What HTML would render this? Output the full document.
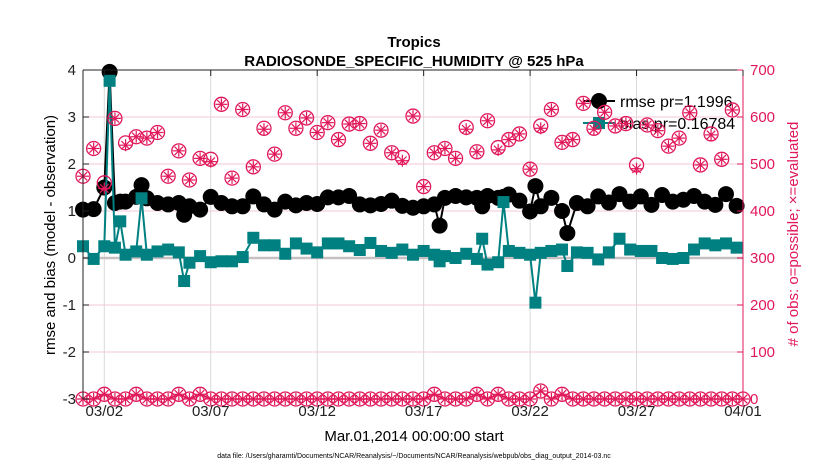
<!DOCTYPE html>
<html><head><meta charset="utf-8"><style>
html,body{margin:0;padding:0;background:#fff;}
svg{display:block;font-family:"Liberation Sans",sans-serif;}
</style></head><body>
<svg id="chart" width="830" height="470" viewBox="0 0 830 470" xmlns="http://www.w3.org/2000/svg">
<rect x="0" y="0" width="830" height="470" fill="#fff"/>
<text x="414" y="47" text-anchor="middle" font-size="15" font-weight="bold">Tropics</text>
<text x="414" y="66" text-anchor="middle" font-size="15" font-weight="bold">RADIOSONDE_SPECIFIC_HUMIDITY @ 525 hPa</text>
<g id="grid"></g>
<g id="legend">
  <line x1="583" y1="101" x2="615" y2="101" stroke="#000" stroke-width="2"/>
  <circle cx="599" cy="101" r="8" fill="#000"/>
  <text x="620" y="107" font-size="16">rmse pr=1.1996</text>
  <line x1="583" y1="123" x2="615" y2="123" stroke="#008080" stroke-width="2"/>
  <rect x="593" y="117" width="12" height="12" fill="#008080"/>
  <text x="620" y="129" font-size="16">bias pr=0.16784</text>
</g>
<g id="series"></g>
<g id="axes"></g>
<text transform="translate(55,235) rotate(-90)" text-anchor="middle" font-size="15">rmse and bias (model - observation)</text>
<text transform="translate(798,234) rotate(-90)" text-anchor="middle" font-size="15" fill="#e0185a"># of obs: o=possible; ×=evaluated</text>
<text x="414" y="441" text-anchor="middle" font-size="15">Mar.01,2014 00:00:00 start</text>
<text x="414" y="458" text-anchor="middle" font-size="7">data file: /Users/gharamti/Documents/NCAR/Reanalysis/~/Documents/NCAR/Reanalysis/webpub/obs_diag_output_2014-03.nc</text>
</svg>
<script>
const xTickLabels = ["03/02","03/07","03/12","03/17","03/22","03/27","04/01"];
const xTickDays = [1,6,11,16,21,26,31];
const yTicks = [-3,-2,-1,0,1,2,3,4];
const y2Ticks = [0,100,200,300,400,500,600,700];
const statDays = [0,0.5,1,1.25,1.5,1.75,2,2.5,2.75,3,3.5,4,4.5,4.75,5,5.5,6,6.5,7,7.5,8,8.5,9,9.5,10,10.5,11,11.5,12,12.5,13,13.5,14,14.5,15,15.5,16,16.5,16.75,17,17.5,18,18.5,18.75,19,19.5,19.75,20,20.5,21,21.25,21.5,22,22.5,22.75,23.2,23.7,24.2,24.7,25.2,25.7,26.2,26.7,27.2,27.7,28.2,28.7,29.2,29.7,30.2,30.7];
const rmse = [1.03,1.04,1.5,3.96,1.17,1.2,1.2,1.3,1.55,1.27,1.17,1.14,1.17,0.92,1.1,1.03,1.3,1.17,1.1,1.1,1.31,1.14,1.03,1.2,1.12,1.17,1.15,1.29,1.29,1.32,1.14,1.12,1.15,1.22,1.11,1.07,1.1,1.14,0.69,1.28,1.32,1.29,1.28,1.1,1.32,1.28,1.3,1.35,1.22,0.99,1.53,1.1,1.28,1.0,0.53,1.17,1.1,1.31,1.18,1.36,1.2,1.31,1.13,1.34,1.2,1.24,1.32,1.2,1.13,1.36,1.11];
const bias = [0.25,-0.02,0.25,3.77,0.22,0.78,0.07,0.14,1.27,0.07,0.14,0.18,0.12,-0.49,-0.1,0.04,-0.09,-0.07,-0.07,0.02,0.43,0.27,0.27,0.09,0.31,0.2,0.12,0.31,0.31,0.25,0.17,0.32,0.15,0.11,0.18,0.07,0.15,0.07,-0.07,0.04,0,0.09,-0.02,0.41,-0.14,-0.09,1.19,0.15,0.11,0.07,-0.95,0.11,0.15,0.18,-0.17,0.12,0.11,-0.03,0.12,0.41,0.18,0.15,0.15,0,-0.02,0,0.18,0.31,0.27,0.31,0.22];
const obsPossible = [474,533,460,597,545,558,555,567,474,528,466,512,510,627,470,616,494,576,521,609,576,598,567,588,552,585,586,544,572,524,514,602,452,524,533,512,578,526,592,535,552,564,489,581,616,546,552,629,576,610,581,586,498,583,571,538,555,609,498,564,510,615];
const obsEvaluated = [474,533,448,597,540,558,555,567,474,528,466,512,505,627,470,616,494,574,521,609,576,598,567,588,552,585,586,544,572,524,507,602,452,524,533,512,574,526,592,530,552,564,489,576,616,546,552,629,574,610,581,586,490,583,571,538,555,609,498,562,510,615];
const usedPossible = [0,0,10,0,0,10,0,0,0,10,0,10,0,0,0,0,0,0,0,0,0,0,0,0,0,0,0,0,0,0,0,0,0,10,0,0,0,10,0,10,0,0,0,17,0,10,0,0,0,0,0,0,0,0,0,0,0,0,0,0,0,0,0];
const usedEvaluated = [0,0,10,0,0,10,0,0,0,10,0,10,0,0,0,0,0,0,0,0,0,0,0,0,0,0,0,0,0,0,0,0,0,10,0,0,0,10,0,10,0,0,0,17,0,10,0,0,0,0,0,0,0,0,0,0,0,0,0,0,0,0,0];

const NS = "http://www.w3.org/2000/svg";
const X0 = 83, X1 = 743, Y0 = 70, Y1 = 399, PINK = "#e0185a", TEAL = "#008080";
function xs(d){ return X0 + (X1 - X0) * d / 31; }
function ys(v){ return Y1 - (Y1 - Y0) * (v + 3) / 7; }
function ys2(v){ return Y1 - (Y1 - Y0) * v / 700; }
function mk(tag, attrs, parent){
  const e = document.createElementNS(NS, tag);
  for (const k in attrs) e.setAttribute(k, attrs[k]);
  parent.appendChild(e);
  return e;
}
const grid = document.getElementById('grid');
const series = document.getElementById('series');
const axes = document.getElementById('axes');

// grid
xTickDays.forEach((d, i) => {
  const l = mk('line', {x1: xs(d), x2: xs(d), y1: Y0, y2: Y1, stroke: '#d9d9d9', 'stroke-width': 1}, grid);
  
  
});
y2Ticks.forEach(v => {
  const l = mk('line', {x1: X0, x2: X1, y1: ys2(v), y2: ys2(v), stroke: '#f6cad8', 'stroke-width': 1}, grid);
  
  
});
const zl = mk('line', {x1: X0, x2: X1, y1: ys(0), y2: ys(0), stroke: '#c8bfc2', 'stroke-width': 2.5}, grid);



// obs near bottom (drawn under others)
function star(cx, cy, g){
  const r = 6;
  mk('line', {x1: cx, x2: cx, y1: cy - r, y2: cy + r, stroke: PINK, 'stroke-width': 1.2}, g);
  mk('line', {x1: cx - r, x2: cx + r, y1: cy, y2: cy, stroke: PINK, 'stroke-width': 1.2}, g);
  mk('line', {x1: cx - r * 0.7, x2: cx + r * 0.7, y1: cy - r * 0.7, y2: cy + r * 0.7, stroke: PINK, 'stroke-width': 1.2}, g);
  mk('line', {x1: cx - r * 0.7, x2: cx + r * 0.7, y1: cy + r * 0.7, y2: cy - r * 0.7, stroke: PINK, 'stroke-width': 1.2}, g);
}
// rmse line + markers
const rg = mk('g', {}, series);


mk('polyline', {points: statDays.map((d, i) => xs(d) + ',' + ys(rmse[i])).join(' '), fill: 'none', stroke: '#000', 'stroke-width': 2}, rg);
statDays.forEach((d, i) => {
  const c = mk('circle', {cx: xs(d), cy: ys(rmse[i]), r: 8, fill: '#000'}, rg);
  
  
});
// bias
const bg = mk('g', {}, series);


mk('polyline', {points: statDays.map((d, i) => xs(d) + ',' + ys(bias[i])).join(' '), fill: 'none', stroke: TEAL, 'stroke-width': 2}, bg);
statDays.forEach((d, i) => {
  const s = mk('rect', {x: xs(d) - 6, y: ys(bias[i]) - 6, width: 12, height: 12, fill: TEAL}, bg);
  
  
});
// obs possible/evaluated top
const og = mk('g', {}, series);


obsPossible.forEach((v, i) => {
  const d = i * 0.5;
  const c = mk('circle', {cx: xs(d), cy: ys2(v), r: 7, fill: 'none', stroke: PINK, 'stroke-width': 1.3}, og);
  
  
  star(xs(d), ys2(obsEvaluated[i]), og);
});
// used obs (bottom)
const ug = mk('g', {}, series);


mk('polyline', {points: usedPossible.map((v, i) => xs(i * 0.5) + ',' + ys2(v)).join(' '), fill: 'none', stroke: PINK, 'stroke-width': 1.5}, ug);
usedPossible.forEach((v, i) => {
  const d = i * 0.5;
  const c = mk('circle', {cx: xs(d), cy: ys2(v), r: 7, fill: 'none', stroke: PINK, 'stroke-width': 1.3}, ug);
  
  
  star(xs(d), ys2(usedEvaluated[i]), ug);
});

// axes
const la = mk('line', {x1: X0, x2: X0, y1: Y0, y2: Y1, stroke: '#222', 'stroke-width': 1}, axes);


const ta = mk('line', {x1: X0, x2: X1, y1: Y0, y2: Y0, stroke: '#222', 'stroke-width': 1}, axes);


const ra = mk('line', {x1: X1, x2: X1, y1: Y0, y2: Y1, stroke: PINK, 'stroke-width': 1}, axes);


yTicks.forEach(v => {
  mk('line', {x1: X0, x2: X0 + 6, y1: ys(v), y2: ys(v), stroke: '#222'}, axes);
  const t = mk('text', {x: X0 - 7, y: ys(v) + 5, 'text-anchor': 'end', 'font-size': 15, fill: '#222'}, axes);
  t.textContent = String(v);
  
  
});
y2Ticks.forEach(v => {
  mk('line', {x1: X1 - 6, x2: X1, y1: ys2(v), y2: ys2(v), stroke: PINK}, axes);
  const t = mk('text', {x: X1 + 7, y: ys2(v) + 5, 'text-anchor': 'start', 'font-size': 15, fill: PINK}, axes);
  t.textContent = String(v);
  
  
});
xTickDays.forEach((d, i) => {
  mk('line', {x1: xs(d), x2: xs(d), y1: Y0, y2: Y0 + 6, stroke: '#222'}, axes);
  const t = mk('text', {x: xs(d), y: Y1 + 17, 'text-anchor': 'middle', 'font-size': 15, fill: '#222'}, axes);
  t.textContent = xTickLabels[i];
  
  
});
</script>
</body></html>
